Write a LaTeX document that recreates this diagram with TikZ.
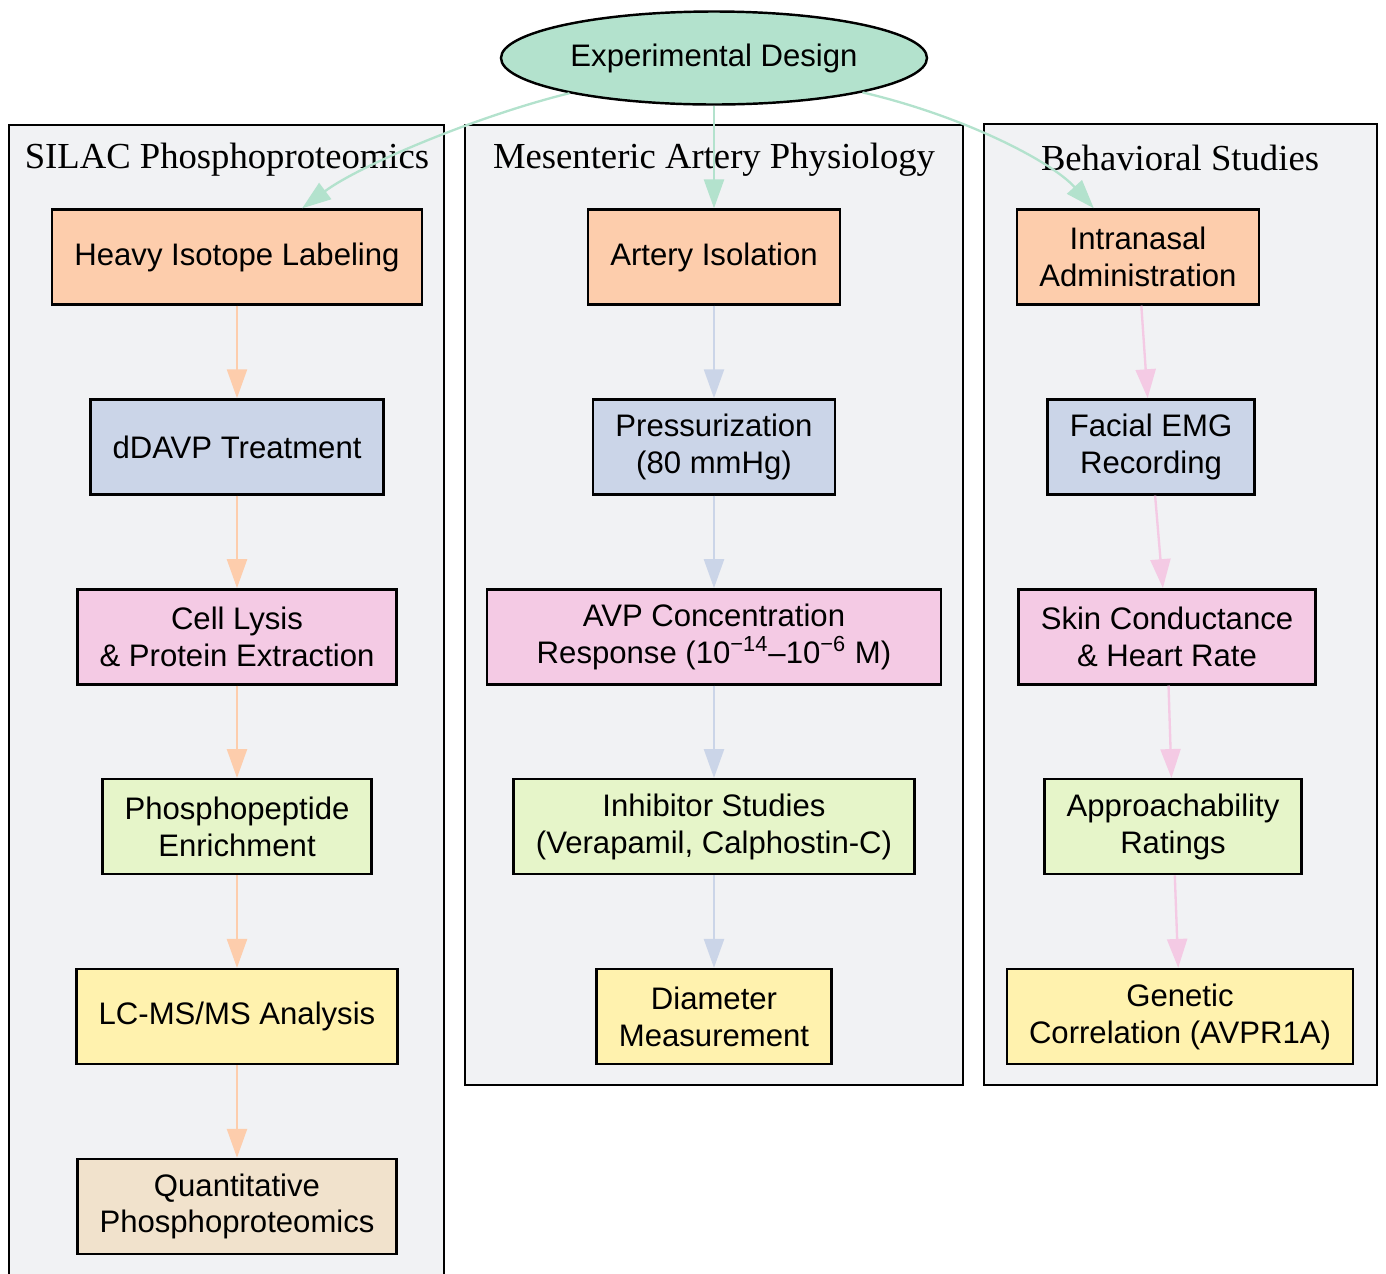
\documentclass[tikz,border=0pt]{standalone}
\usepackage{fontspec}
\setmainfont{Liberation Serif}
\newfontfamily\boxfont{Liberation Sans}
\usetikzlibrary{positioning, arrows.meta, shapes.geometric}
\definecolor{designgreen}{HTML}{B3E2CD}
\definecolor{preporange}{HTML}{FDCDAC}
\definecolor{treatblue}{HTML}{CBD5E8}
\definecolor{dosepink}{HTML}{F4CAE4}
\definecolor{enrichgreen}{HTML}{E6F5C9}
\definecolor{readyellow}{HTML}{FFF2AE}
\definecolor{resulttan}{HTML}{F1E2CC}
\definecolor{clustergrey}{HTML}{F1F2F4}

\begin{document}
\begin{tikzpicture}[x=0.45pt, y=-0.45pt, node distance=41.6pt,
    box/.style={rectangle, draw, line width=1.1pt, minimum height=42.75pt, inner xsep=10pt,
                align=center, font=\boxfont\fontsize{14}{16.6}\selectfont},
    cluster/.style={draw, line width=1.1pt, fill=clustergrey},
    title/.style={font=\fontsize{16.5}{20}\selectfont},
    flow/.style={line width=1.05pt, -{Triangle[length=13pt,width=9pt]}}]
    \useasboundingbox (0,0) rectangle (1386,1273);

    % study clusters
    \draw[cluster] (9,125) rectangle (444,1300);
    \draw[cluster] (465,125) rectangle (963,1085);
    \draw[cluster] (984,124) rectangle (1377,1085);
    \node[title] (silac) at (227,160) {SILAC Phosphoproteomics};
    \node[title] (artery) at (714,160) {Mesenteric Artery Physiology};
    \node[title] (behav) at (1180,158) {Behavioral Studies};

    \node[ellipse, draw, line width=1.1pt, fill=designgreen, minimum width=191.7pt, minimum height=41.85pt,
          inner sep=0pt, font=\boxfont\fontsize{14}{16.6}\selectfont] (design) at (714,58) {Experimental Design};

    % SILAC column
    \node[box, fill=preporange] (hl) at (237,257) {Heavy Isotope Labeling};
    \node[box, fill=treatblue] (dd) [below=of hl] {dDAVP Treatment};
    \node[box, fill=dosepink] (cl) [below=of dd] {Cell Lysis\\\& Protein Extraction};
    \node[box, fill=enrichgreen] (pe) [below=of cl] {Phosphopeptide\\Enrichment};
    \node[box, fill=readyellow] (ms) [below=of pe] {LC-MS/MS Analysis};
    \node[box, fill=resulttan] (qp) [below=of ms] {Quantitative\\Phosphoproteomics};

    % artery column
    \node[box, fill=preporange] (ai) at (714,257) {Artery Isolation};
    \node[box, fill=treatblue] (pr) [below=of ai] {Pressurization\\(80 mmHg)};
    \node[box, fill=dosepink, minimum width=204.3pt] (avp) [below=of pr] {AVP Concentration\\Response (10\textsuperscript{−14}–10\textsuperscript{−6} M)};
    \node[box, fill=enrichgreen] (inh) [below=of avp] {Inhibitor Studies\\(Verapamil, Calphostin-C)};
    \node[box, fill=readyellow] (dm) [below=of inh] {Diameter\\Measurement};

    % behavioral column
    \node[box, fill=preporange] (ia) at (1138,257) {Intranasal\\Administration};
    \node[box, fill=treatblue] (emg) [below=of ia, xshift=5.85pt] {Facial EMG\\Recording};
    \node[box, fill=dosepink] (sc) [below=of emg, xshift=7.2pt] {Skin Conductance\\\& Heart Rate};
    \node[box, fill=enrichgreen] (ar) [below=of sc, xshift=2.7pt] {Approachability\\Ratings};
    \node[box, fill=readyellow] (gc) [below=of ar, xshift=3.15pt] {Genetic\\Correlation (AVPR1A)};

    \draw[flow, designgreen] (design) .. controls (480,115) and (360,165) .. (hl);
    \draw[flow, designgreen] (design) -- (ai);
    \draw[flow, designgreen] (design) .. controls (960,115) and (1050,160) .. (ia);

    \path[flow, preporange] (hl) edge (dd) (dd) edge (cl) (cl) edge (pe) (pe) edge (ms) (ms) edge (qp);
    \path[flow, treatblue] (ai) edge (pr) (pr) edge (avp) (avp) edge (inh) (inh) edge (dm);
    \path[flow, dosepink] (ia) edge (emg) (emg) edge (sc) (sc) edge (ar) (ar) edge (gc);
\end{tikzpicture}
\end{document}
